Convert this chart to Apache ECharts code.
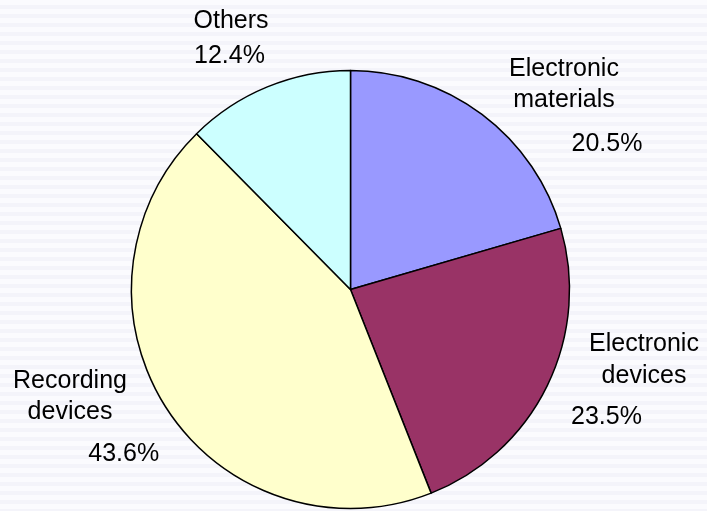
<!DOCTYPE html>
<html>
<head>
<meta charset="utf-8">
<script src="https://cdn.jsdelivr.net/npm/echarts@6/dist/echarts.min.js"></script>
<style>
html,body{margin:0;padding:0;}
body{background:repeating-linear-gradient(to bottom,#fbfbfe 0px,#fbfbfe 5px,#f4f4fa 5px,#f4f4fa 9px);}
#chart{width:707px;height:511px;}
</style>
</head>
<body>
<div id="chart"></div>
<script>
var categories = ['Electronic\nmaterials', 'Electronic\ndevices', 'Recording\ndevices', 'Others'];
var shares = [20.5, 23.5, 43.6, 12.4];
var sliceColors = ['#9999ff', '#993366', '#ffffcc', '#ccffff'];

// label placement (text anchors), separate from data
var namePos = [[564, 84.7], [644, 360.1], [70, 396.5], [231, 21.3]];
var pctPos = [[607, 144.3], [606.5, 417.3], [123.7, 454.6], [229.5, 56.3]];

var font = "'Liberation Sans', Arial, sans-serif";

var chart = echarts.init(document.getElementById('chart'), null, {renderer: 'canvas'});

var labelBase = {
  show: true,
  position: 'inside',
  overflow: 'none',
  color: '#000',
  fontFamily: font,
  fontSize: 25,
  lineHeight: 31.5
};

chart.setOption({
  backgroundColor: 'transparent',
  animation: false,
  series: [
    {
      type: 'pie',
      center: [350.5, 289.5],
      radius: 219,
      startAngle: 90,
      clockwise: true,
      silent: true,
      itemStyle: {borderColor: '#000', borderWidth: 1.5},
      label: Object.assign({}, labelBase, {formatter: '{b}'}),
      labelLine: {show: false},
      labelLayout: function (p) {
        var q = namePos[p.dataIndex];
        return {x: q[0], y: q[1], align: 'center', verticalAlign: 'middle'};
      },
      data: categories.map(function (c, i) {
        return {name: c, value: shares[i], itemStyle: {color: sliceColors[i]}};
      })
    },
    {
      type: 'pie',
      center: [350.5, 289.5],
      radius: 219,
      startAngle: 90,
      clockwise: true,
      silent: true,
      z: 3,
      itemStyle: {color: 'rgba(0,0,0,0)', borderWidth: 0},
      label: Object.assign({}, labelBase, {
        formatter: function (p) { return shares[p.dataIndex].toFixed(1) + '%'; }
      }),
      labelLine: {show: false},
      labelLayout: function (p) {
        var q = pctPos[p.dataIndex];
        return {x: q[0], y: q[1], align: 'center', verticalAlign: 'middle'};
      },
      data: categories.map(function (c, i) { return {name: c, value: shares[i]}; })
    }
  ]
});
</script>
</body>
</html>
